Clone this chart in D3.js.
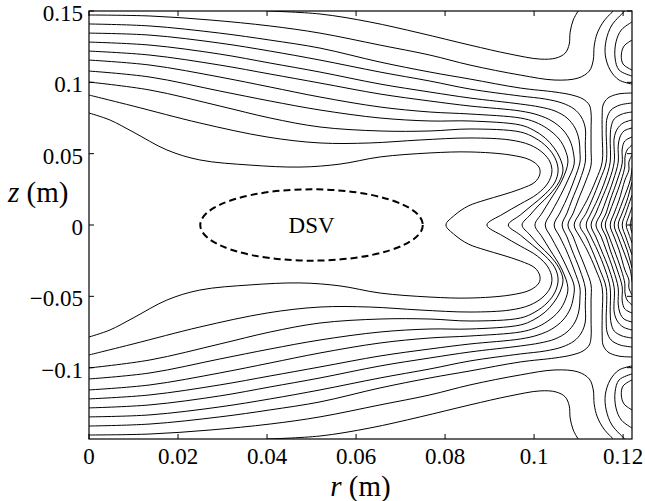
<!DOCTYPE html>
<html>
<head>
<meta charset="utf-8">
<script src="https://cdn.jsdelivr.net/npm/d3@7"></script>
<style>
  body { margin: 0; background: #fff; }
  svg { display: block; }
  text { font-family: "Liberation Serif", "Times New Roman", serif; fill: #000; }
</style>
</head>
<body>
<svg id="chart" width="645" height="501"></svg>
<script>
// axes
const rTicks = [0, 0.02, 0.04, 0.06, 0.08, 0.1, 0.12];
const rTickLabels = ["0", "0.02", "0.04", "0.06", "0.08", "0.1", "0.12"];
const zTicks = [-0.1, -0.05, 0, 0.05, 0.1, 0.15];
const zTickLabels = ["\u22120.1", "\u22120.05", "0", "0.05", "0.1", "0.15"];
const rDomain = [0, 0.122];
const zDomain = [-0.15, 0.15];

// DSV ellipse: centre and semi-axes (m)
const dsv = { r: 0.05, z: 0, ar: 0.025, az: 0.025 };

// contour lines, upper half (z >= 0); the field is symmetric about z = 0
// lines that run from an edge to an edge (mirrored as separate lines)
const lineA = [[0.0400,0.1500],[0.0519,0.1479],[0.0631,0.1423],[0.0744,0.1345],[0.0856,0.1261],[0.0946,0.1198],[0.1013,0.1163],[0.1049,0.1170],[0.1070,0.1205],[0.1079,0.1268],[0.1081,0.1352],[0.1088,0.1437],[0.1099,0.1500]];
const lineB = [[0,0.1472],[0.0137,0.1465],[0.0272,0.1437],[0.0407,0.1395],[0.0519,0.1345],[0.0654,0.1261],[0.0766,0.1191],[0.0856,0.1121],[0.0969,0.1051],[0.1047,0.1016],[0.1099,0.1030],[0.1124,0.1079],[0.1133,0.1156],[0.1135,0.1254],[0.1142,0.1345],[0.1157,0.1430],[0.1178,0.1500]];
const coilC1 = [[0.1204,0.1500],[0.1175,0.1402],[0.1162,0.1296],[0.1160,0.1191],[0.1171,0.1086],[0.1191,0.1016],[0.1220,0.0988]];
const coilC2 = [[0.1220,0.1423],[0.1196,0.1367],[0.1184,0.1282],[0.1182,0.1170],[0.1191,0.1086],[0.1220,0.1044]];
const coilC3 = [[0.1220,0.1296],[0.1202,0.1254],[0.1196,0.1191],[0.1200,0.1128],[0.1220,0.1086]];

// lines from the left edge that turn back through z = 0
const lineL1 = [[0,0.0785],[0.0047,0.0736],[0.0099,0.0652],[0.0175,0.0526],[0.0249,0.0456],[0.0362,0.0420],[0.0474,0.0406],[0.0564,0.0427],[0.0654,0.0477],[0.0766,0.0505],[0.0856,0.0512],[0.0946,0.0491],[0.0991,0.0456],[0.1011,0.0406],[0.1013,0.0357],[0.1002,0.0301],[0.0969,0.0252],[0.0928,0.0210],[0.0890,0.0175],[0.0852,0.0133],[0.0822,0.0070],[0.0802,0]];
const lineL2 = [[0,0.0911],[0.0099,0.0834],[0.0249,0.0715],[0.0400,0.0617],[0.0519,0.0575],[0.0631,0.0575],[0.0744,0.0596],[0.0856,0.0610],[0.0946,0.0596],[0.0991,0.0561],[0.1020,0.0505],[0.1036,0.0441],[0.1040,0.0371],[0.1031,0.0294],[0.1007,0.0217],[0.0969,0.0147],[0.0930,0.0077],[0.0894,0]];
const lineL3 = [[0,0.1002],[0.0137,0.0946],[0.0294,0.0834],[0.0407,0.0750],[0.0519,0.0687],[0.0654,0.0659],[0.0766,0.0659],[0.0856,0.0673],[0.0969,0.0652],[0.1002,0.0610],[0.1029,0.0547],[0.1047,0.0470],[0.1054,0.0385],[0.1047,0.0301],[0.1025,0.0217],[0.0996,0.0140],[0.0969,0.0070],[0.0942,0]];
const lineL4 = [[0,0.1079],[0.0137,0.1037],[0.0294,0.0939],[0.0407,0.0869],[0.0519,0.0806],[0.0654,0.0750],[0.0766,0.0729],[0.0856,0.0729],[0.0969,0.0701],[0.0998,0.0666],[0.1025,0.0610],[0.1045,0.0540],[0.1058,0.0470],[0.1065,0.0385],[0.1056,0.0301],[0.1036,0.0217],[0.1011,0.0140],[0.0991,0.0070],[0.0973,0]];
const lineL5 = [[0,0.1156],[0.0137,0.1121],[0.0294,0.1037],[0.0407,0.0967],[0.0519,0.0897],[0.0654,0.0827],[0.0766,0.0792],[0.0856,0.0778],[0.0969,0.0750],[0.1002,0.0722],[0.1031,0.0673],[0.1056,0.0603],[0.1070,0.0526],[0.1076,0.0441],[0.1063,0.0315],[0.1036,0.0175],[0.1018,0.0084],[0.1002,0]];
const lineL6 = [[0,0.1219],[0.0137,0.1191],[0.0294,0.1121],[0.0407,0.1058],[0.0519,0.0995],[0.0654,0.0918],[0.0766,0.0869],[0.0856,0.0834],[0.0969,0.0799],[0.1009,0.0771],[0.1040,0.0729],[0.1065,0.0666],[0.1081,0.0589],[0.1088,0.0512],[0.1090,0.0427],[0.1076,0.0315],[0.1054,0.0175],[0.1038,0.0084],[0.1025,0]];
const lineL7 = [[0,0.1282],[0.0137,0.1261],[0.0294,0.1198],[0.0407,0.1135],[0.0519,0.1072],[0.0654,0.0988],[0.0766,0.0932],[0.0856,0.0890],[0.0969,0.0848],[0.1013,0.0827],[0.1047,0.0799],[0.1074,0.0750],[0.1092,0.0680],[0.1101,0.0596],[0.1103,0.0512],[0.1103,0.0441],[0.1090,0.0315],[0.1072,0.0175],[0.1058,0.0084],[0.1045,0]];
const lineL8 = [[0,0.1345],[0.0137,0.1331],[0.0294,0.1275],[0.0407,0.1219],[0.0519,0.1156],[0.0654,0.1072],[0.0766,0.1009],[0.0856,0.0953],[0.0969,0.0904],[0.1025,0.0883],[0.1063,0.0855],[0.1090,0.0813],[0.1106,0.0757],[0.1115,0.0680],[0.1115,0.0561],[0.1115,0.0441],[0.1103,0.0315],[0.1085,0.0175],[0.1074,0.0084],[0.1063,0]];
const lineL9 = [[0,0.1409],[0.0137,0.1395],[0.0294,0.1345],[0.0407,0.1296],[0.0519,0.1240],[0.0654,0.1142],[0.0766,0.1072],[0.0856,0.1023],[0.0969,0.0960],[0.1047,0.0932],[0.1085,0.0911],[0.1110,0.0883],[0.1124,0.0841],[0.1128,0.0785],[0.1128,0.0666],[0.1128,0.0526],[0.1128,0.0420],[0.1117,0.0315],[0.1099,0.0175],[0.1088,0.0084],[0.1076,0]];

// lines from the right edge that turn back through z = 0
const lineR1 = [[0.1220,0.0925],[0.1189,0.0918],[0.1166,0.0890],[0.1155,0.0841],[0.1153,0.0771],[0.1153,0.0631],[0.1153,0.0441],[0.1139,0.0315],[0.1119,0.0175],[0.1103,0.0084],[0.1090,0]];
const lineR2 = [[0.1220,0.0855],[0.1193,0.0841],[0.1173,0.0806],[0.1164,0.0750],[0.1162,0.0666],[0.1162,0.0441],[0.1148,0.0315],[0.1130,0.0175],[0.1117,0.0084],[0.1103,0]];
const lineR3 = [[0.1220,0.0792],[0.1198,0.0778],[0.1180,0.0743],[0.1173,0.0687],[0.1171,0.0610],[0.1171,0.0441],[0.1160,0.0315],[0.1142,0.0175],[0.1128,0.0084],[0.1117,0]];
const lineR4 = [[0.1220,0.0736],[0.1200,0.0715],[0.1187,0.0673],[0.1180,0.0610],[0.1180,0.0441],[0.1169,0.0315],[0.1151,0.0175],[0.1139,0.0084],[0.1128,0]];
const lineR5 = [[0.1220,0.0680],[0.1202,0.0659],[0.1193,0.0617],[0.1189,0.0554],[0.1189,0.0441],[0.1178,0.0315],[0.1162,0.0175],[0.1151,0.0084],[0.1139,0]];
const lineR6 = [[0.1220,0.0617],[0.1204,0.0589],[0.1198,0.0533],[0.1198,0.0434],[0.1187,0.0315],[0.1171,0.0175],[0.1162,0.0084],[0.1151,0]];
const lineR7 = [[0.1220,0.0561],[0.1209,0.0526],[0.1204,0.0470],[0.1204,0.0413],[0.1196,0.0315],[0.1180,0.0175],[0.1169,0.0084],[0.1160,0]];
const lineR8 = [[0.1220,0.0491],[0.1213,0.0441],[0.1213,0.0385],[0.1204,0.0315],[0.1191,0.0175],[0.1180,0.0084],[0.1171,0]];
const lineR9 = [[0.1220,0.0399],[0.1216,0.0315],[0.1200,0.0175],[0.1189,0.0084],[0.1180,0]];
const lineR10 = [[0.1220,0.0301],[0.1209,0.0175],[0.1198,0.0084],[0.1189,0]];
const lineR11 = [[0.1220,0.0210],[0.1207,0.0091],[0.1198,0]];
const lineR12 = [[0.1220,0.0126],[0.1213,0.0063],[0.1207,0]];
const lineR13 = [[0.1220,0.0056],[0.1216,0]];

const edgeLines = [lineA, lineB, coilC1, coilC2, coilC3];
const turningLines = [lineL1, lineL2, lineL3, lineL4, lineL5, lineL6, lineL7, lineL8, lineL9,
  lineR1, lineR2, lineR3, lineR4, lineR5, lineR6, lineR7, lineR8, lineR9, lineR10, lineR11, lineR12, lineR13];

const margin = { left: 89, right: 13, top: 11, bottom: 62 };
const W = 645, H = 501;

const svg = d3.select("#chart");
const x = d3.scaleLinear().domain(rDomain).range([margin.left, W - margin.right]);
const y = d3.scaleLinear().domain(zDomain).range([H - margin.bottom, margin.top]);

svg.append("clipPath").attr("id", "plotClip")
  .append("rect")
  .attr("x", x(rDomain[0])).attr("y", y(zDomain[1]))
  .attr("width", x(rDomain[1]) - x(rDomain[0]))
  .attr("height", y(zDomain[0]) - y(zDomain[1]));

const mirror = pts => pts.map(d => [d[0], -d[1]]);

const line = d3.line()
  .x(d => x(d[0]))
  .y(d => y(d[1]))
  .curve(d3.curveCatmullRom.alpha(0.5));

// full paths: edge lines twice, turning lines joined with their mirror image
let paths = [];
edgeLines.forEach(l => { paths.push(l); paths.push(mirror(l)); });
turningLines.forEach(l => {
  paths.push(l.concat(mirror(l.slice(0, -1)).reverse()));
});

const plot = svg.append("g").attr("clip-path", "url(#plotClip)");

plot.selectAll("path.contour")
  .data(paths)
  .enter()
  .append("path")
    .attr("class", "contour")
    .attr("d", line)
    .style("fill", "none")
    .style("stroke", "#000")
    .style("stroke-width", 1);

// DSV region
plot.append("ellipse")
  .attr("cx", x(dsv.r)).attr("cy", y(dsv.z))
  .attr("rx", x(dsv.r + dsv.ar) - x(dsv.r))
  .attr("ry", y(dsv.z) - y(dsv.z + dsv.az))
  .style("fill", "none")
  .style("stroke", "#000")
  .style("stroke-width", 2)
  .style("stroke-dasharray", "7,4");

svg.append("text")
  .attr("x", x(dsv.r)).attr("y", y(dsv.z) + 8)
  .attr("text-anchor", "middle")
  .style("font-size", "23px")
  .text("DSV");

// box
svg.append("rect")
  .attr("x", x(rDomain[0])).attr("y", y(zDomain[1]))
  .attr("width", x(rDomain[1]) - x(rDomain[0]))
  .attr("height", y(zDomain[0]) - y(zDomain[1]))
  .style("fill", "none")
  .style("stroke", "#000")
  .style("stroke-width", 1.2);

// ticks, pointing inwards on all four sides
const tickLen = 5;
const ticks = svg.append("g").style("stroke", "#000").style("stroke-width", 1);
rTicks.forEach(t => {
  ticks.append("line").attr("x1", x(t)).attr("x2", x(t)).attr("y1", y(zDomain[0])).attr("y2", y(zDomain[0]) - tickLen);
  ticks.append("line").attr("x1", x(t)).attr("x2", x(t)).attr("y1", y(zDomain[1])).attr("y2", y(zDomain[1]) + tickLen);
});
zTicks.forEach(t => {
  ticks.append("line").attr("x1", x(rDomain[0])).attr("x2", x(rDomain[0]) + tickLen).attr("y1", y(t)).attr("y2", y(t));
  ticks.append("line").attr("x1", x(rDomain[1])).attr("x2", x(rDomain[1]) - tickLen).attr("y1", y(t)).attr("y2", y(t));
});

// tick labels
svg.selectAll("text.rtick")
  .data(rTicks)
  .enter()
  .append("text")
    .attr("class", "rtick")
    .attr("x", d => x(d))
    .attr("y", y(zDomain[0]) + 25)
    .attr("text-anchor", "middle")
    .style("font-size", "23px")
    .text((d, i) => rTickLabels[i]);

svg.selectAll("text.ztick")
  .data(zTicks)
  .enter()
  .append("text")
    .attr("class", "ztick")
    .attr("x", x(rDomain[0]) - 6)
    .attr("y", d => y(d) + 10)
    .attr("text-anchor", "end")
    .style("font-size", "23px")
    .text((d, i) => zTickLabels[i]);

// axis labels
const rLabel = svg.append("text")
  .attr("x", (x(rDomain[0]) + x(rDomain[1])) / 2)
  .attr("y", 496)
  .attr("text-anchor", "middle")
  .style("font-size", "29px");
rLabel.append("tspan").style("font-style", "italic").text("r");
rLabel.append("tspan").text(" (m)");

const zLabel = svg.append("text")
  .attr("x", 8)
  .attr("y", 202)
  .style("font-size", "29px");
zLabel.append("tspan").style("font-style", "italic").text("z");
zLabel.append("tspan").text(" (m)");
</script>
</body>
</html>
